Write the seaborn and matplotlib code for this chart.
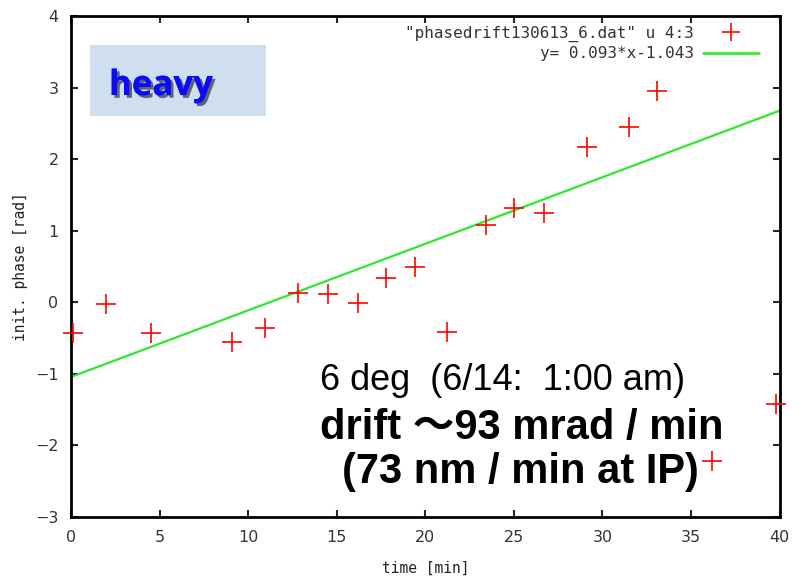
import numpy as np
import pandas as pd
import matplotlib
matplotlib.use("Agg")
import matplotlib.pyplot as plt
import seaborn as sns
from matplotlib.lines import Line2D
import matplotlib.patheffects as pe

# Data
time_min = [0.1, 2.0, 4.5, 9.1, 10.95, 12.8, 14.5, 16.2, 17.8, 19.4, 21.2,
            23.4, 25.0, 26.7, 29.1, 31.5, 33.1, 36.2, 39.8]
phase_rad = [-0.43, -0.02, -0.43, -0.55, -0.36, 0.13, 0.11, -0.01, 0.34, 0.49, -0.41,
             1.08, 1.32, 1.25, 2.17, 2.45, 2.95, -2.22, -1.42]
fit_slope = 0.093
fit_intercept = -1.043
fit_x = [0, 40]
fit_y = [fit_slope * v + fit_intercept for v in fit_x]
x_ticks = [0, 5, 10, 15, 20, 25, 30, 35, 40]
y_ticks = [-3, -2, -1, 0, 1, 2, 3, 4]

sns.set_style("ticks")
plt.rcParams['font.family'] = ['Liberation Sans', 'Noto Sans CJK JP', 'DejaVu Sans']

fig = plt.figure(figsize=(7.98, 5.84), dpi=100)
ax = fig.add_axes([0.089, 0.1147, 0.888, 0.858])

df = pd.DataFrame({"t": time_min, "p": phase_rad})
fit_df = pd.DataFrame({"t": fit_x, "p": fit_y})

sns.lineplot(data=fit_df, x="t", y="p", ax=ax, color="#2ee82e", linewidth=1.6, zorder=2)
sns.scatterplot(data=df, x="t", y="p", ax=ax, marker="+", color="red", s=200,
                linewidth=1.2, zorder=3, clip_on=False)

ax.set_xlim(0, 40)
ax.set_ylim(-3, 4)
ax.set_xticks(x_ticks)
ax.set_yticks(y_ticks)
ax.tick_params(direction="in", length=5, width=1.5, top=True, right=True,
               labelsize=11.5, labelcolor="#333333", pad=9)
for lab in ax.get_xticklabels() + ax.get_yticklabels():
    lab.set_family("DejaVu Sans")
for s in ax.spines.values():
    s.set_linewidth(2)
    s.set_color("black")

ax.set_xlabel("time [min]", family="DejaVu Sans Mono", fontsize=10.5, color="#222222", labelpad=12)
ax.set_ylabel("init. phase [rad]", family="DejaVu Sans Mono", fontsize=10.5, color="#222222", labelpad=5)

# legend
handles = [Line2D([], [], marker="+", color="red", linestyle="none", markersize=13, markeredgewidth=1.2),
           Line2D([], [], color="#2ee82e", linewidth=1.8)]
labels = ['"phasedrift130613_6.dat" u 4:3', 'y= 0.093*x-1.043']
leg = ax.legend(handles, labels, loc="upper right", frameon=False, markerfirst=False,
                prop={"family": "DejaVu Sans Mono", "size": 11.5}, handlelength=3.5,
                borderaxespad=0.9, borderpad=0.0, labelspacing=0.3, handletextpad=0.6,
                bbox_to_anchor=(0.9915, 1.01))
for t in leg.get_texts():
    t.set_color("#333333")

# "heavy" box
fig.patches.append(plt.Rectangle((90 / 798, 1 - 116 / 584), 176 / 798, 71 / 584,
                                 transform=fig.transFigure, facecolor="#cfdff0",
                                 edgecolor="none", zorder=5))
fig.text(109 / 798, 1 - 86 / 584, "heavy", fontsize=25, fontweight="bold", color="#0a0aff",
         family="Open Sans", va="center", ha="left", zorder=6,
         path_effects=[pe.withSimplePatchShadow(offset=(2, -2), shadow_rgbFace="black", alpha=0.55),
                       pe.Normal()])

fig.text(320 / 798, 1 - 380 / 584, "6 deg  (6/14:  1:00 am)", fontsize=26, color="black",
         va="center", ha="left")
fig.text(320 / 798, 1 - 428 / 584, "drift \uff5e93 mrad / min", fontsize=30, fontweight="bold",
         color="black", va="center", ha="left")
fig.text(342 / 798, 1 - 472 / 584, "(73 nm / min at IP)", fontsize=30, fontweight="bold",
         color="black", va="center", ha="left")

fig.savefig("out.png", dpi=100)
